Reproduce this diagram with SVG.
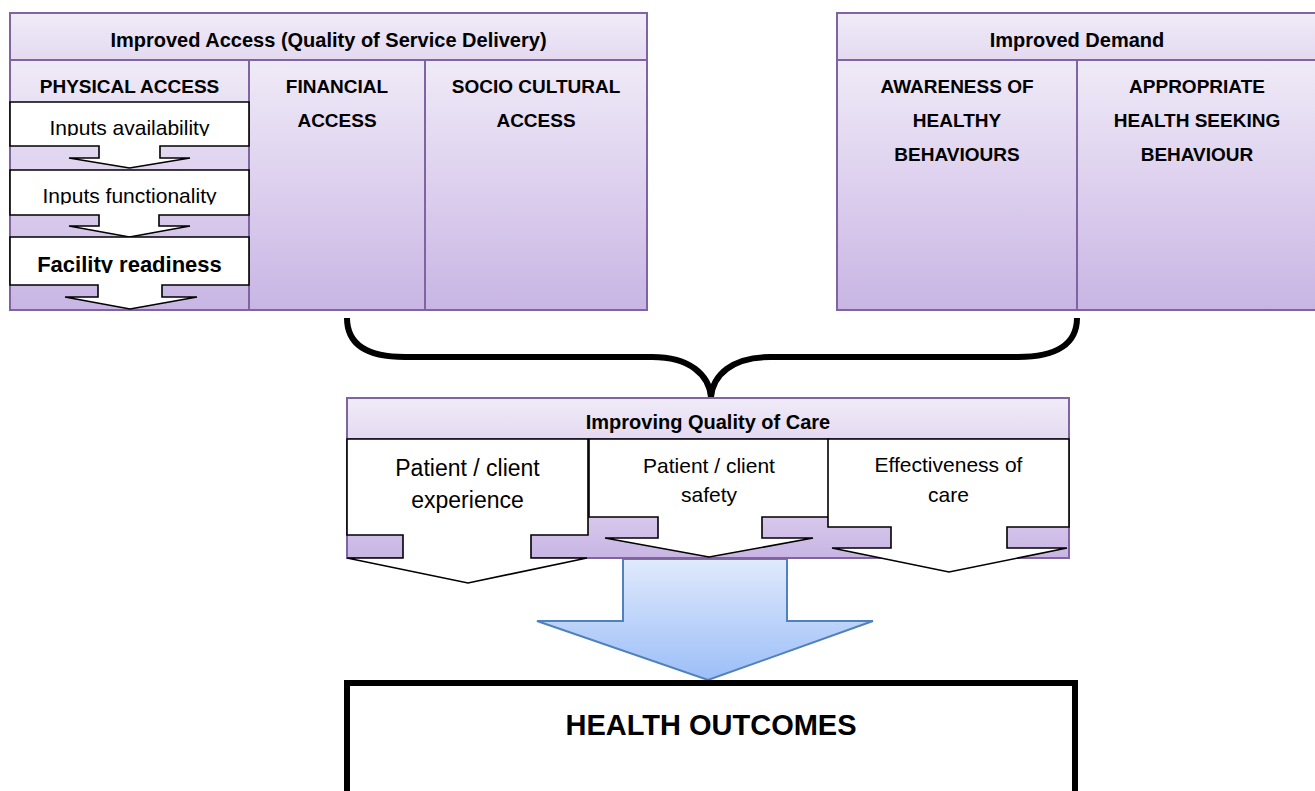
<svg xmlns="http://www.w3.org/2000/svg" width="1315" height="791" viewBox="0 0 1315 791">
<style>
  .pur { fill: url(#gPur); stroke: #8064A2; stroke-width: 2; }
  .hdr { fill: url(#gHdr); stroke: #8064A2; stroke-width: 2; }
  .call { fill: #FFFFFF; stroke: #000000; stroke-width: 1.6; stroke-linejoin: miter; }
  .t { font-family: "Liberation Sans", Arial, sans-serif; fill: #000000; text-anchor: middle; }
  .b { font-weight: bold; }
  .title { font-size: 20px; font-weight: bold; }
  .col { font-size: 19px; font-weight: bold; }
</style>
<defs>
  <linearGradient id="gPur" x1="0" y1="0" x2="0" y2="1">
    <stop offset="0" stop-color="#EFEAF7"/>
    <stop offset="0.5" stop-color="#DDD0EE"/>
    <stop offset="1" stop-color="#C8B5E4"/>
  </linearGradient>
  <linearGradient id="gHdr" x1="0" y1="0" x2="0" y2="1">
    <stop offset="0" stop-color="#F0EBF8"/>
    <stop offset="1" stop-color="#E4DAF1"/>
  </linearGradient>
  <linearGradient id="gBlue" x1="0" y1="0" x2="0" y2="1">
    <stop offset="0" stop-color="#E0EAFC"/>
    <stop offset="1" stop-color="#9CBEF8"/>
  </linearGradient>
  <clipPath id="c1"><rect x="10" y="102" width="239" height="34"/></clipPath>
  <clipPath id="c2"><rect x="10" y="170" width="239" height="34.5"/></clipPath>
  <clipPath id="c3"><rect x="10" y="237" width="239" height="36"/></clipPath>
</defs>

<g id="improved-access">
  <rect class="hdr" x="10" y="13" width="637" height="47"/>
  <text class="t title" x="328.5" y="47">Improved Access (Quality of Service Delivery)</text>
  <rect class="pur" x="10" y="60" width="239" height="250"/>
  <rect class="pur" x="249" y="60" width="176" height="250"/>
  <rect class="pur" x="425" y="60" width="222" height="250"/>
  <text class="t col" x="129.5" y="93">PHYSICAL ACCESS</text>
  <text class="t col" x="337" y="93">FINANCIAL</text>
  <text class="t col" x="337" y="127">ACCESS</text>
  <text class="t col" x="536" y="93">SOCIO CULTURAL</text>
  <text class="t col" x="536" y="127">ACCESS</text>
</g>

<g id="inputs-availability">
  <path class="call" d="M10,102 H249 V146 H160 V158 H190 L129.5,168 L69,158 H99 V146 H10 Z"/>
  <text class="t" clip-path="url(#c1)" x="129.5" y="134.5" font-size="21">Inputs availability</text>
</g>
<g id="inputs-functionality">
  <path class="call" d="M10,170 H249 V215 H159 V226 H190 L129.5,237 L69,226 H99 V215 H10 Z"/>
  <text class="t" clip-path="url(#c2)" x="129.5" y="203" font-size="21">Inputs functionality</text>
</g>
<g id="facility-readiness">
  <path class="call" d="M10,237 H249 V285 H162 V297 H197 L130,309 L65,297 H98 V285 H10 Z"/>
  <text class="t b" clip-path="url(#c3)" x="129.5" y="271.5" font-size="22">Facility readiness</text>
</g>

<g id="improved-demand">
  <rect class="hdr" x="837" y="13" width="480" height="47"/>
  <text class="t title" x="1077" y="47">Improved Demand</text>
  <rect class="pur" x="837" y="60" width="240" height="250"/>
  <rect class="pur" x="1077" y="60" width="240" height="250"/>
  <text class="t col" x="957" y="93">AWARENESS OF</text>
  <text class="t col" x="957" y="127">HEALTHY</text>
  <text class="t col" x="957" y="161">BEHAVIOURS</text>
  <text class="t col" x="1197" y="93">APPROPRIATE</text>
  <text class="t col" x="1197" y="127">HEALTH SEEKING</text>
  <text class="t col" x="1197" y="161">BEHAVIOUR</text>
</g>

<g id="connectors">
  <path d="M347,318 C347,343 365,357 405,357 L652,357 C690,357 709,375 711,397 C713,375 732,357 770,357 L1018,357 C1058,357 1077,343 1077,318" fill="none" stroke="#000000" stroke-width="6"/>
  <polygon points="623,559 787,559 787,621 873,621 708,680 537,621 623,621" fill="url(#gBlue)" stroke="#4F81BD" stroke-width="2"/>
</g>

<g id="quality-of-care">
  <rect class="hdr" x="347" y="398" width="722" height="41"/>
  <rect class="pur" x="347" y="439" width="722" height="119"/>
  <text class="t title" x="708" y="429">Improving Quality of Care</text>
</g>

<g id="patient-experience">
  <path class="call" d="M347,439 H588 V535 H531 V558 H587 L468,583 L347,558 H403 V535 H347 Z"/>
  <text class="t" x="467.5" y="476" font-size="23">Patient / client</text>
  <text class="t" x="467.5" y="508" font-size="23">experience</text>
</g>
<g id="patient-safety">
  <path class="call" d="M589,439 H829 V517 H762 V538 H813 L709,557 L605,538 H658 V517 H589 Z"/>
  <text class="t" x="709" y="473" font-size="21">Patient / client</text>
  <text class="t" x="709" y="502" font-size="21">safety</text>
</g>
<g id="effectiveness">
  <path class="call" d="M828,439 H1069 V527 H1007 V548 H1067 L949,572 L832,548 H891 V527 H828 Z"/>
  <text class="t" x="948.5" y="472" font-size="21">Effectiveness of</text>
  <text class="t" x="948.5" y="502" font-size="21">care</text>
</g>

<g id="health-outcomes">
  <rect x="347" y="683" width="728" height="150" fill="#FFFFFF" stroke="#000000" stroke-width="6"/>
  <text class="t b" x="711" y="735" font-size="29">HEALTH OUTCOMES</text>
</g>
</svg>
